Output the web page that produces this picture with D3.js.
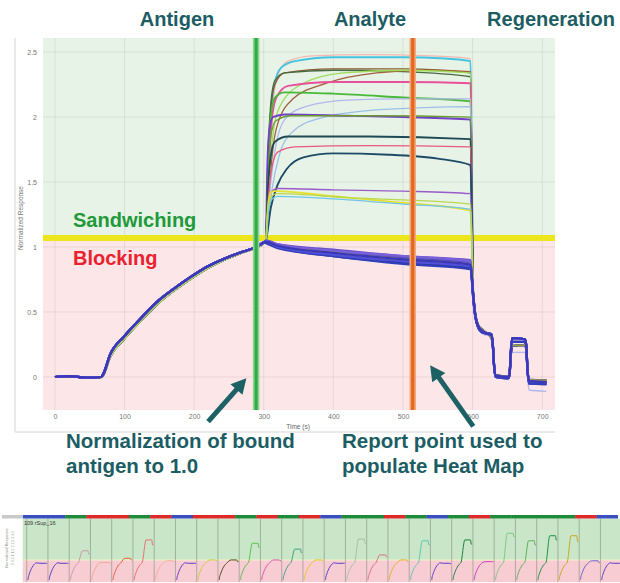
<!DOCTYPE html>
<html>
<head>
<meta charset="utf-8">
<script src="https://cdn.jsdelivr.net/npm/d3@7"></script>
<style>
body { margin: 0; background: #fff; }
svg { display: block; }
text { font-family: "Liberation Sans", Arial, sans-serif; }
</style>
</head>
<body>
<div id="chart"></div>
<script>
// ===========================================================
// DATA
// ===========================================================
var xTicks = [0, 100, 200, 300, 400, 500, 600, 700];
var yTicks = [0, 0.5, 1, 1.5, 2, 2.5];
var phaseTitles = ["Antigen", "Analyte", "Regeneration"];
var cutoffValue = 1.07;      // sandwiching / blocking threshold
var normalizeTime = 289;     // green line
var reportTime = 514;        // orange line

// antigen loading, shared by every trace
var antigenTimes     = [0, 20, 45, 66, 70, 79, 99, 123, 147, 171, 195, 219, 243, 267, 289, 300, 303];
var antigenValues    = [0, 0.006, -0.004, 0, 0.03, 0.17, 0.31, 0.45, 0.58, 0.68, 0.77, 0.85, 0.91, 0.96, 1.0, 1.035, 1.045];
var antigenValuesLow = [0, 0.004, -0.006, -0.002, 0.02, 0.15, 0.29, 0.43, 0.56, 0.665, 0.755, 0.835, 0.9, 0.953, 0.995, 1.03, 1.04];

// analyte phase, sandwiching traces [time, value]
var sandwichPoints = [
    [[303,1.05],[308,1.6],[314,2.15],[322,2.35],[335,2.43],[370,2.47],[450,2.48],[540,2.47],[597,2.45]],
    [[303,1.05],[306,1.5],[310,2.0],[315,2.25],[325,2.38],[345,2.43],[400,2.46],[500,2.46],[560,2.45],[597,2.43]],
    [[303,1.05],[306,1.6],[310,2.05],[316,2.25],[330,2.34],[400,2.37],[500,2.37],[597,2.34]],
    [[303,1.05],[306,1.7],[310,2.1],[316,2.28],[330,2.34],[400,2.36],[500,2.35],[597,2.31]],
    [[303,1.05],[308,1.45],[313,1.75],[319,1.93],[342,2.14],[390,2.26],[462,2.34],[530,2.36],[597,2.35]],
    [[303,1.05],[308,1.55],[314,1.9],[323,2.08],[357,2.26],[414,2.34],[500,2.36],[597,2.34]],
    [[303,1.05],[306,1.5],[311,1.95],[318,2.15],[335,2.24],[400,2.27],[500,2.27],[597,2.26]],
    [[303,1.05],[306,1.6],[310,2.0],[316,2.15],[330,2.19],[400,2.18],[500,2.15],[597,2.12]],
    [[303,1.05],[310,1.5],[318,1.8],[330,1.98],[360,2.08],[420,2.13],[500,2.14],[597,2.14]],
    [[303,1.05],[312,1.45],[322,1.7],[340,1.88],[380,1.99],[450,2.05],[520,2.07],[597,2.08]],
    [[303,1.05],[305,1.6],[308,1.9],[313,2.0],[330,2.02],[420,2.01],[500,2.0],[597,1.98]],
    [[303,1.05],[306,1.5],[310,1.85],[317,1.97],[340,2.01],[450,2.01],[597,2.0]],
    [[303,1.05],[306,1.45],[310,1.7],[316,1.81],[335,1.85],[450,1.85],[597,1.83]],
    [[303,1.05],[307,1.4],[312,1.62],[320,1.73],[345,1.77],[450,1.78],[597,1.77]],
    [[303,1.05],[310,1.3],[320,1.48],[333,1.6],[357,1.69],[400,1.72],[480,1.71],[550,1.68],[597,1.63]],
    [[303,1.05],[306,1.3],[310,1.42],[320,1.45],[400,1.44],[500,1.43],[597,1.41]],
    [[303,1.05],[306,1.3],[310,1.42],[316,1.43],[400,1.39],[500,1.34],[597,1.28]],
    [[303,1.05],[307,1.28],[312,1.37],[320,1.39],[400,1.37],[500,1.33],[597,1.29]],
    [[303,1.05],[306,1.3],[311,1.39],[320,1.41],[420,1.38],[597,1.33]]
];
var sandwichColors = ["#f4b8b0", "#45c4df", "#8a5a30", "#4a6a40", "#a0603a", "#9edc5a", "#e8509a",
    "#4cb83a", "#b0b8ec", "#9ec0e8", "#7040c8", "#6a9a30", "#1f4a55", "#e85a80", "#1d4a66",
    "#9a5ac8", "#e8e030", "#70c4ea", "#b8d850"];
var sandwichRegen = [1, 0, 2, 1, 0, 2, 1, 2, 3, 1, 0, 2, 1, 2, 0, 1, 2, 1, 2];

// analyte phase, blocking traces
var blockingTimes = [303, 320, 400, 500, 597];
var blockingValues = [
    [1.045, 1.01, 0.96, 0.91, 0.87],
    [1.04, 1.0, 0.94, 0.89, 0.85],
    [1.05, 1.02, 0.97, 0.92, 0.88],
    [1.035, 1.0, 0.93, 0.88, 0.84],
    [1.05, 1.02, 0.98, 0.93, 0.9],
    [1.04, 1.01, 0.95, 0.9, 0.86],
    [1.03, 0.99, 0.93, 0.87, 0.83],
    [1.05, 1.02, 0.97, 0.93, 0.89],
    [1.04, 1.0, 0.95, 0.9, 0.86],
    [1.04, 1.01, 0.96, 0.91, 0.87],
    [1.045, 1.0, 0.94, 0.89, 0.85],
    [1.04, 1.01, 0.955, 0.905, 0.865]
];
var blockingColors = ["#3b3bb0", "#4848d0", "#5a48c8", "#3030a0", "#6a50d0", "#4040c0",
    "#2f3fb8", "#7a60d8", "#e8a060", "#90a040", "#5050d8", "#3a38b8"];
var blockingRegen = [0, 1, 0, 2, 1, 0, 1, 0, 2, 2, 0, 0];

// regeneration pulses
var regenTimes = [601, 604, 608, 615, 627, 629, 631, 633, 651, 653, 655, 657, 675, 677, 679, 681, 706];
var regenVariants = [
    [0.62, 0.47, 0.39, 0.35, 0.32, 0.25, 0.08, 0.01, 0.0, 0.02, 0.2, 0.3, 0.29, 0.25, 0.05, -0.03, -0.04],
    [0.6, 0.46, 0.38, 0.34, 0.33, 0.26, 0.08, 0.0, -0.01, 0.01, 0.18, 0.27, 0.27, 0.23, 0.04, -0.05, -0.055],
    [0.63, 0.48, 0.4, 0.36, 0.3, 0.24, 0.07, 0.015, 0.005, 0.02, 0.17, 0.24, 0.245, 0.21, 0.05, -0.02, -0.025],
    [0.6, 0.45, 0.37, 0.33, 0.31, 0.23, 0.06, 0.0, -0.005, 0.01, 0.14, 0.19, 0.19, 0.16, 0.0, -0.1, -0.11]
];

// heat map strip below: one mini sensorgram per well
var stripGroups = ["b","b","g","r","r","g","r","b","r","r","g","r","g","r",
                   "b","g","g","r","g","b","g","r","g","g","g","g","r","b"];
var stripLevels = [1.0, 1.0, 1.75, 1.05, 1.3, 2.4, 1.15, 1.0, 1.2, 1.2, 2.2, 1.2, 1.85, 1.2,
                   1.0, 2.45, 1.5, 1.2, 2.35, 1.0, 2.4, 1.1, 2.8, 2.35, 2.65, 2.65, 1.15, 1.0];
var stripEnds   = [1.0, 1.0, 1.55, 1.0, 1.2, 2.1, 1.1, 1.0, 1.15, 1.1, 1.95, 1.15, 1.65, 1.15,
                   1.0, 2.2, 1.4, 1.1, 2.1, 0.98, 2.15, 1.1, 2.6, 2.1, 2.4, 2.3, 1.05, 0.97];
var stripColors = ["#5a3fc8", "#5a3fc8", "#c99aa8", "#f0a890", "#e8603a", "#e87070", "#f4b09a",
    "#5a3fc8", "#c8d040", "#5a4a20", "#5cc050", "#e050b0", "#40a080", "#e8c820",
    "#5a3fc8", "#a8c0a8", "#d87088", "#e8b030", "#60c8b0", "#5a3fc8", "#208040",
    "#d040c0", "#80c880", "#60b060", "#209040", "#c8a820", "#7060d0", "#5a3fc8"];
var groupColors = {b: "#3a4fc0", g: "#1f8a3a", r: "#e02a2a"};

// ===========================================================
// SVG WRAPPER
// ===========================================================
var svgWidth = 620;
var svgHeight = 583;
var plot = {left: 43, top: 38, right: 555, bottom: 410};

var svg = d3.select('#chart')
    .append('svg')
    .attr('width', svgWidth)
    .attr('height', svgHeight);

var x = d3.scaleLinear().domain([-17.2, 718.4]).range([plot.left, plot.right]);
var y = d3.scaleLinear().domain([-0.254, 2.608]).range([plot.bottom, plot.top]);

svg.append('clipPath').attr('id', 'plotclip')
    .append('rect')
    .attr('x', plot.left).attr('y', plot.top)
    .attr('width', plot.right - plot.left).attr('height', plot.bottom - plot.top);

// frame lines of the screenshot panel
svg.append('line').attr('x1', 15).attr('x2', 15).attr('y1', plot.top).attr('y2', 432)
    .attr('stroke', '#d6d6d6').attr('stroke-width', 1);
svg.append('line').attr('x1', 15).attr('x2', plot.right).attr('y1', 432).attr('y2', 432)
    .attr('stroke', '#d6d6d6').attr('stroke-width', 1);

// ===========================================================
// BACKGROUND ZONES + GRID
// ===========================================================
svg.append('rect')
    .attr('x', plot.left).attr('y', plot.top)
    .attr('width', plot.right - plot.left).attr('height', y(cutoffValue) - plot.top)
    .attr('fill', '#e7f3e7');
svg.append('rect')
    .attr('x', plot.left).attr('y', y(cutoffValue))
    .attr('width', plot.right - plot.left).attr('height', plot.bottom - y(cutoffValue))
    .attr('fill', '#fce6e7');

var grid = svg.append('g');
grid.selectAll('.vg').data(xTicks).enter().append('line')
    .attr('x1', d => x(d)).attr('x2', d => x(d))
    .attr('y1', plot.top).attr('y2', plot.bottom)
    .attr('stroke', '#000').attr('stroke-opacity', 0.07).attr('stroke-width', 1);
grid.selectAll('.hg').data(yTicks).enter().append('line')
    .attr('x1', plot.left).attr('x2', plot.right)
    .attr('y1', d => y(d)).attr('y2', d => y(d))
    .attr('stroke', '#000').attr('stroke-opacity', 0.07).attr('stroke-width', 1);

// threshold line
svg.append('line')
    .attr('x1', plot.left).attr('x2', plot.right)
    .attr('y1', y(cutoffValue)).attr('y2', y(cutoffValue))
    .attr('stroke', '#eee61c').attr('stroke-width', 6);

// ===========================================================
// TRACES
// ===========================================================
var line = d3.line()
    .x(d => x(d[0]))
    .y(d => y(d[1]))
    .curve(d3.curveMonotoneX);

function zipPts(times, values) {
    return times.map((t, i) => [t, values[i]]);
}

var traces = svg.append('g').attr('clip-path', 'url(#plotclip)');

var thickSandwich = [1, 6, 7, 10, 12, 14, 16];
sandwichPoints.forEach(function(pts, i) {
    var all = zipPts(antigenTimes, antigenValuesLow).slice(0, -1)
        .concat(pts)
        .concat(zipPts(regenTimes, regenVariants[sandwichRegen[i]]));
    traces.append('path')
        .attr('d', line(all))
        .attr('fill', 'none')
        .attr('stroke', sandwichColors[i])
        .attr('stroke-width', thickSandwich.indexOf(i) >= 0 ? 1.9 : 1.3);
});

blockingValues.forEach(function(vals, i) {
    var all = zipPts(antigenTimes, antigenValues).slice(0, -1)
        .concat(zipPts(blockingTimes, vals))
        .concat(zipPts(regenTimes, regenVariants[blockingRegen[i]]));
    traces.append('path')
        .attr('d', line(all))
        .attr('fill', 'none')
        .attr('stroke', blockingColors[i])
        .attr('stroke-width', i == 8 || i == 9 ? 1.1 : 2.2);
});

// normalization and report point markers
[[normalizeTime, '#8fd58f', '#2fae48'], [reportTime, '#f2a77a', '#e2681f']].forEach(function(m) {
    svg.append('line')
        .attr('x1', x(m[0])).attr('x2', x(m[0]))
        .attr('y1', plot.top).attr('y2', plot.bottom)
        .attr('stroke', m[1]).attr('stroke-width', 6.5);
    svg.append('line')
        .attr('x1', x(m[0])).attr('x2', x(m[0]))
        .attr('y1', plot.top).attr('y2', plot.bottom)
        .attr('stroke', m[2]).attr('stroke-width', 3.2);
});

// ===========================================================
// AXES
// ===========================================================
var fmt = d3.format('');
var yAxis = svg.append('g')
    .attr('transform', `translate(${plot.left},0)`)
    .call(d3.axisLeft(y).tickValues(yTicks).tickSize(0).tickPadding(6).tickFormat(fmt));
var xAxis = svg.append('g')
    .attr('transform', `translate(0,${plot.bottom})`)
    .call(d3.axisBottom(x).tickValues(xTicks).tickSize(0).tickPadding(4).tickFormat(fmt));
[xAxis, yAxis].forEach(function(a) {
    a.select('.domain').remove();
    a.selectAll('text')
        .style('font-family', '"Liberation Sans", Arial, sans-serif')
        .style('font-size', '7px')
        .attr('fill', '#777');
});

svg.append('text')
    .attr('x', 298).attr('y', 429)
    .attr('text-anchor', 'middle')
    .style('font-size', '6.5px').attr('fill', '#666')
    .text('Time (s)');
svg.append('text')
    .attr('transform', 'translate(23,218) rotate(-90)')
    .attr('text-anchor', 'middle')
    .style('font-size', '6.5px').attr('fill', '#777')
    .text('Normalized Response');

// ===========================================================
// LABELS
// ===========================================================
var teal = '#1c5d64';
var titleX = [177, 370, 551];
svg.selectAll('.phase').data(phaseTitles).enter().append('text')
    .attr('x', (d, i) => titleX[i]).attr('y', 26)
    .attr('text-anchor', 'middle')
    .style('font-size', '20px').style('font-weight', 'bold')
    .attr('fill', teal)
    .text(d => d);

svg.append('text')
    .attr('x', 73).attr('y', y(cutoffValue) - 11)
    .style('font-size', '20px').style('font-weight', 'bold')
    .attr('fill', '#22993a')
    .text('Sandwiching');
svg.append('text')
    .attr('x', 73).attr('y', y(cutoffValue) + 27)
    .style('font-size', '20px').style('font-weight', 'bold')
    .attr('fill', '#ea2230')
    .text('Blocking');

var notes = [
    {x: 66, lines: ['Normalization of bound', 'antigen to 1.0']},
    {x: 342, lines: ['Report point used to', 'populate Heat Map']}
];
notes.forEach(function(n) {
    n.lines.forEach(function(s, j) {
        svg.append('text')
            .attr('x', n.x).attr('y', 448 + j * 24.5)
            .style('font-size', '20.5px').style('font-weight', 'bold')
            .attr('fill', teal)
            .text(s);
    });
});

// arrows pointing at the two markers
function arrow(x1, y1, x2, y2) {
    var dx = x2 - x1, dy = y2 - y1, len = Math.sqrt(dx * dx + dy * dy);
    var ux = dx / len, uy = dy / len, head = 15, half = 8;
    var bx = x2 - ux * head, by = y2 - uy * head;
    svg.append('line')
        .attr('x1', x1).attr('y1', y1).attr('x2', bx + ux * 2).attr('y2', by + uy * 2)
        .attr('stroke', '#1e6164').attr('stroke-width', 5);
    svg.append('path')
        .attr('d', `M${x2},${y2}L${bx - uy * half},${by + ux * half}L${bx + uy * half},${by - ux * half}Z`)
        .attr('fill', '#1e6164');
}
arrow(x(220), y(-0.344), x(275), y(-0.01));
arrow(x(601), y(-0.38), x(539), y(0.09));

// ===========================================================
// HEAT MAP STRIP
// ===========================================================
var strip = {top: 515, barH: 3.5, mid: 560, bottom: 582, left: 22.7, cell: 21.25};
var px = d3.scaleLinear().domain([0, stripGroups.length])
    .range([strip.left, strip.left + strip.cell * stripGroups.length]);
var sy = d3.scaleLinear().domain([0, 1]).range([580, 563.3]);

svg.append('rect').attr('x', 2).attr('y', strip.top).attr('width', 20).attr('height', strip.barH)
    .attr('fill', '#c8c8c8');
svg.append('rect')
    .attr('x', strip.left).attr('y', strip.top + strip.barH)
    .attr('width', svgWidth - strip.left).attr('height', strip.mid - strip.top - strip.barH)
    .attr('fill', '#c9e6c8');
svg.append('rect')
    .attr('x', strip.left).attr('y', strip.mid)
    .attr('width', svgWidth - strip.left).attr('height', strip.bottom - strip.mid)
    .attr('fill', '#f8ccd3');
svg.append('line')
    .attr('x1', strip.left).attr('x2', svgWidth).attr('y1', strip.mid).attr('y2', strip.mid)
    .attr('stroke', '#f4f1c6').attr('stroke-width', 1.2);

svg.selectAll('.seg').data(stripGroups).enter().append('rect')
    .attr('x', (d, i) => px(i)).attr('y', strip.top)
    .attr('width', strip.cell + 0.3).attr('height', strip.barH)
    .attr('fill', d => groupColors[d]);

svg.selectAll('.cellline').data(stripGroups).enter().append('line')
    .attr('x1', (d, i) => px(i) + 4).attr('x2', (d, i) => px(i) + 4)
    .attr('y1', strip.top + strip.barH).attr('y2', strip.bottom)
    .attr('stroke', '#7f917f').attr('stroke-width', 0.6);

stripLevels.forEach(function(lv, i) {
    var sx = d3.scaleLinear().domain([60, 640]).range([px(i) + 5, px(i) + 24.5]);
    var pts = zipPts(antigenTimes, antigenValues).slice(3, -2)
        .concat([[303, 1.03], [420, lv], [590, lv], [612, stripEnds[i]], [640, stripEnds[i]]]);
    var mini = d3.line().x(d => sx(d[0])).y(d => sy(d[1])).curve(d3.curveMonotoneX);
    svg.append('path')
        .attr('d', mini(pts))
        .attr('fill', 'none')
        .attr('stroke', stripColors[i])
        .attr('stroke-width', 1);
});

svg.append('text')
    .attr('x', 24).attr('y', 525)
    .style('font-size', '5.5px').attr('fill', '#333')
    .text('109 rSup_16');
svg.append('text')
    .attr('transform', 'translate(8,548) rotate(-90)')
    .attr('text-anchor', 'middle')
    .style('font-size', '4px').attr('fill', '#888')
    .text('Normalized Response');
svg.append('text')
    .attr('transform', 'translate(14,548) rotate(-90)')
    .attr('text-anchor', 'middle')
    .style('font-size', '3.5px').attr('fill', '#999')
    .text('0 0.5 1 1.5 2 2.5 3 3.5');
</script>
</body>
</html>
